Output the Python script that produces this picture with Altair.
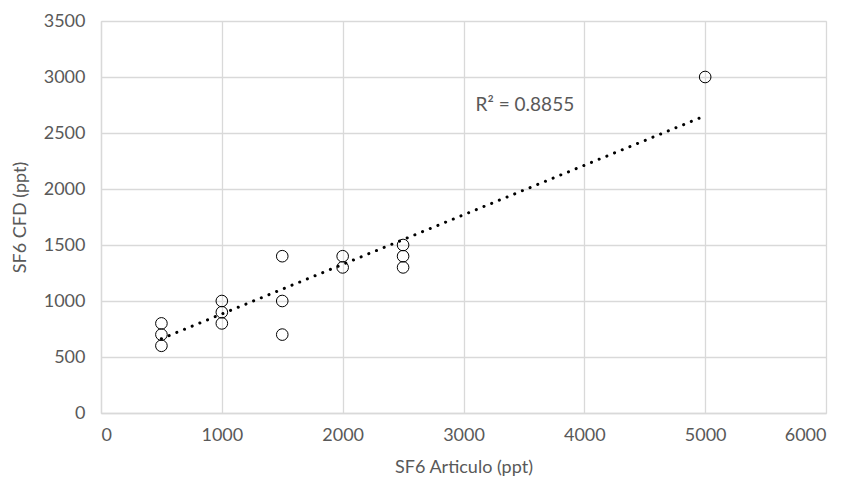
import altair as alt
import pandas as pd

# Scatter data
x_vals = [500, 500, 500, 1000, 1000, 1000, 1500, 1500, 1500, 2000, 2000, 2500, 2500, 2500, 5000]
y_vals = [800, 700, 600, 1000, 900, 800, 1400, 1000, 700, 1400, 1300, 1500, 1400, 1300, 3000]

# Linear trendline endpoints (as drawn)
trend_x = [500, 5000]
trend_y = [663, 2654]

# R² label
r2_text = ["R² = 0.8855"]
r2_x = [3100]
r2_y = [2750]

x_ticks = [0, 1000, 2000, 3000, 4000, 5000, 6000]
y_ticks = [0, 500, 1000, 1500, 2000, 2500, 3000, 3500]

pts = pd.DataFrame({"x": x_vals, "y": y_vals})
trend = pd.DataFrame({"x": trend_x, "y": trend_y})
lab = pd.DataFrame({"x": r2_x, "y": r2_y, "t": r2_text})

FONT = "Lato"
GRAY = "#595959"
GRID = "#d9d9d9"

xs = alt.Scale(domain=[0, 6000], nice=False, zero=False)
ys = alt.Scale(domain=[0, 3500], nice=False, zero=False)

xax = alt.Axis(values=x_ticks, format="d", title="SF6 Articulo (ppt)", grid=True, gridColor=GRID,
               gridWidth=1.3, domainColor=GRID, domainWidth=1.3, ticks=False,
               labelPadding=13, titlePadding=14,
               labelFont=FONT, titleFont=FONT, labelFontSize=18, titleFontSize=18,
               labelColor=GRAY, titleColor=GRAY, titleFontWeight="normal")
yax = alt.Axis(values=y_ticks, format="d", title="SF6 CFD (ppt)", grid=True, gridColor=GRID,
               gridWidth=1.3, domainColor=GRID, domainWidth=1.3, ticks=False,
               labelPadding=16, titlePadding=14,
               labelFont=FONT, titleFont=FONT, labelFontSize=18, titleFontSize=18,
               labelColor=GRAY, titleColor=GRAY, titleFontWeight="normal")

points = alt.Chart(pts).mark_point(shape="circle", size=135, filled=False,
                                   stroke="black", strokeWidth=1, opacity=1).encode(
    x=alt.X("x:Q", scale=xs, axis=xax),
    y=alt.Y("y:Q", scale=ys, axis=yax),
)

line = alt.Chart(trend).mark_line(color="black", strokeWidth=3, strokeCap="round",
                                  strokeDash=[0.1, 8.2]).encode(
    x=alt.X("x:Q", scale=xs),
    y=alt.Y("y:Q", scale=ys),
)

text = alt.Chart(lab).mark_text(align="left", baseline="middle", font=FONT,
                                fontSize=19, color=GRAY).encode(
    x=alt.X("x:Q", scale=xs),
    y=alt.Y("y:Q", scale=ys),
    text="t:N",
)

chart = alt.layer(line, points, text).properties(
    width=725, height=392,
    autosize=alt.AutoSizeParams(type="none"),
    padding={"left": 93, "top": 13, "right": 18, "bottom": 68},
).configure_view(stroke=None).configure(background="white")

chart.save("out.html", embed_options={"renderer": "svg", "actions": False})
